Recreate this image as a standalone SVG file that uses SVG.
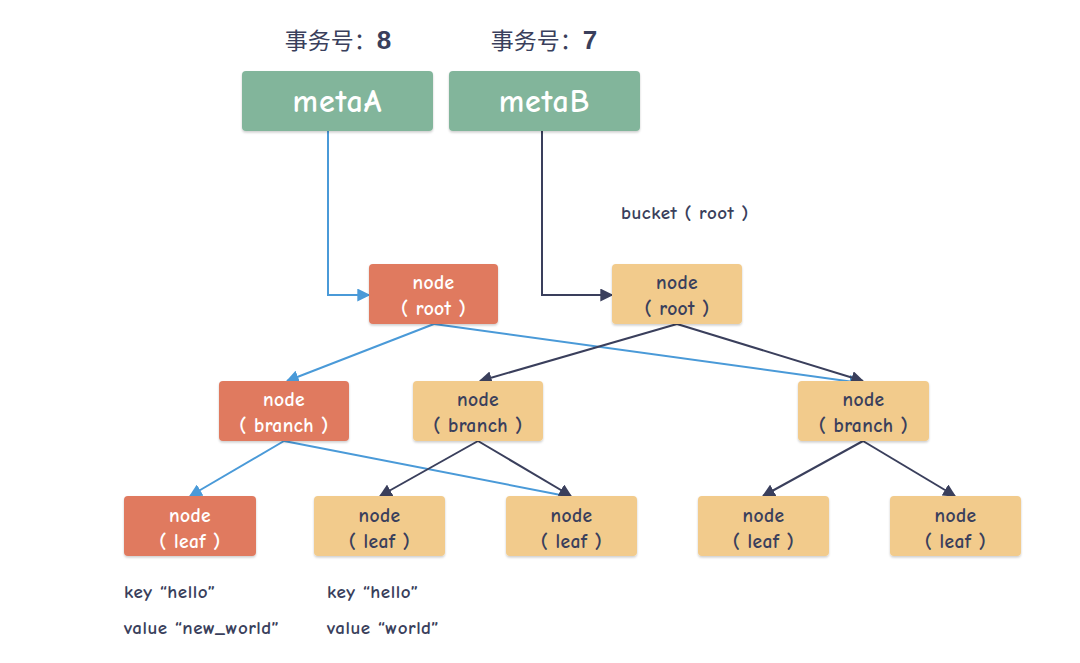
<svg xmlns="http://www.w3.org/2000/svg" width="1080" height="663" viewBox="0 0 1080 663">
<style>
.t{font-family:"Comic Neue","Lato","Noto Sans",sans-serif;font-weight:bold;}
.meta rect{fill:#82b59b;}
.red rect{fill:#e07a5f;}
.yel rect{fill:#f2cb8c;}
.red text{fill:#ffffff;}
.yel text{fill:#3a3f5c;}
.nt{font-size:19.5px;text-anchor:middle;letter-spacing:0.4px;}
.mt{font-size:32px;fill:#ffffff;text-anchor:middle;letter-spacing:1px;}
.lbl{font-size:19px;fill:#3a3f5c;letter-spacing:0.5px;}
.title{font-size:23px;fill:#3a3f5c;text-anchor:middle;font-family:"Noto Sans CJK SC","Liberation Sans",sans-serif;}
.blue{stroke:#4a9ad8;stroke-width:2;fill:none;marker-end:url(#ab);}
.dark{stroke:#3a3f5c;stroke-width:2;fill:none;marker-end:url(#ad);}
</style>
<defs>
<filter id="sh" x="-10%" y="-10%" width="120%" height="130%"><feDropShadow dx="0" dy="1.5" stdDeviation="1" flood-color="#000" flood-opacity="0.2"/></filter>
<marker id="ab" viewBox="0 0 10 10" refX="9" refY="5" markerWidth="13" markerHeight="13" markerUnits="userSpaceOnUse" orient="auto"><path d="M0,0 L10,5 L0,10 z" fill="#4a9ad8"/></marker>
<marker id="ad" viewBox="0 0 10 10" refX="9" refY="5" markerWidth="13" markerHeight="13" markerUnits="userSpaceOnUse" orient="auto"><path d="M0,0 L10,5 L0,10 z" fill="#3a3f5c"/></marker>
</defs>
<rect width="1080" height="663" fill="#ffffff"/>
<g id="titles">
<text class="title" x="338" y="49">事务号：<tspan font-family="Liberation Sans" font-weight="bold" font-size="26">8</tspan></text>
<text class="title" x="544" y="49">事务号：<tspan font-family="Liberation Sans" font-weight="bold" font-size="26">7</tspan></text>
</g>
<g id="connectors">
<path class="blue" d="M328,131 V295 H369"/>
<path class="dark" d="M542,131 V295 H612"/>
<path class="blue" d="M434,324 L287,381"/>
<path class="blue" d="M434,324 L861,383"/>
<path class="dark" d="M677,324 L480,381"/>
<path class="dark" d="M677,324 L863,381"/>
<path class="blue" d="M284,441 L190,496"/>
<path class="blue" d="M284,441 L571,497"/>
<path class="dark" d="M478,441 L380,496"/>
<path class="dark" d="M478,441 L571,496"/>
<path class="dark" d="M863,441 L763,496"/>
<path class="dark" d="M863,441 L955,496"/>
</g>
<g id="metaA" class="meta"><rect x="242" y="71" width="191" height="60" rx="4" filter="url(#sh)"/><text class="t mt" x="337.5" y="112">metaA</text></g>
<g id="metaB" class="meta"><rect x="449" y="71" width="191" height="60" rx="4" filter="url(#sh)"/><text class="t mt" x="544.5" y="112">metaB</text></g>
<g id="rootA" class="red"><rect x="369" y="264" width="129" height="60" rx="4" filter="url(#sh)"/><text class="t nt" x="433.5" y="289">node</text><text class="t nt" x="433.5" y="315">( root )</text></g>
<g id="rootB" class="yel"><rect x="612" y="264" width="130" height="60" rx="4" filter="url(#sh)"/><text class="t nt" x="677" y="289">node</text><text class="t nt" x="677" y="315">( root )</text></g>
<g id="branchA" class="red"><rect x="219" y="381" width="130" height="60" rx="4" filter="url(#sh)"/><text class="t nt" x="284" y="406">node</text><text class="t nt" x="284" y="432">( branch )</text></g>
<g id="branchB" class="yel"><rect x="413" y="381" width="130" height="60" rx="4" filter="url(#sh)"/><text class="t nt" x="478" y="406">node</text><text class="t nt" x="478" y="432">( branch )</text></g>
<g id="branchC" class="yel"><rect x="798" y="381" width="131" height="60" rx="4" filter="url(#sh)"/><text class="t nt" x="863.5" y="406">node</text><text class="t nt" x="863.5" y="432">( branch )</text></g>
<g id="leafA" class="red"><rect x="124" y="496" width="132" height="60" rx="4" filter="url(#sh)"/><text class="t nt" x="190" y="522">node</text><text class="t nt" x="190" y="548">( leaf )</text></g>
<g id="leafB" class="yel"><rect x="314" y="496" width="131" height="60" rx="4" filter="url(#sh)"/><text class="t nt" x="379.5" y="522">node</text><text class="t nt" x="379.5" y="548">( leaf )</text></g>
<g id="leafC" class="yel"><rect x="506" y="496" width="131" height="60" rx="4" filter="url(#sh)"/><text class="t nt" x="571.5" y="522">node</text><text class="t nt" x="571.5" y="548">( leaf )</text></g>
<g id="leafD" class="yel"><rect x="698" y="496" width="131" height="60" rx="4" filter="url(#sh)"/><text class="t nt" x="763.5" y="522">node</text><text class="t nt" x="763.5" y="548">( leaf )</text></g>
<g id="leafE" class="yel"><rect x="890" y="496" width="131" height="60" rx="4" filter="url(#sh)"/><text class="t nt" x="955.5" y="522">node</text><text class="t nt" x="955.5" y="548">( leaf )</text></g>
<g id="labels">
<text class="t lbl" x="621" y="219">bucket ( root )</text>
<text class="t lbl" x="124" y="598">key “hello”</text>
<text class="t lbl" x="124" y="634">value “new_world”</text>
<text class="t lbl" x="327" y="598">key “hello”</text>
<text class="t lbl" x="327" y="634">value “world”</text>
</g>
</svg>
